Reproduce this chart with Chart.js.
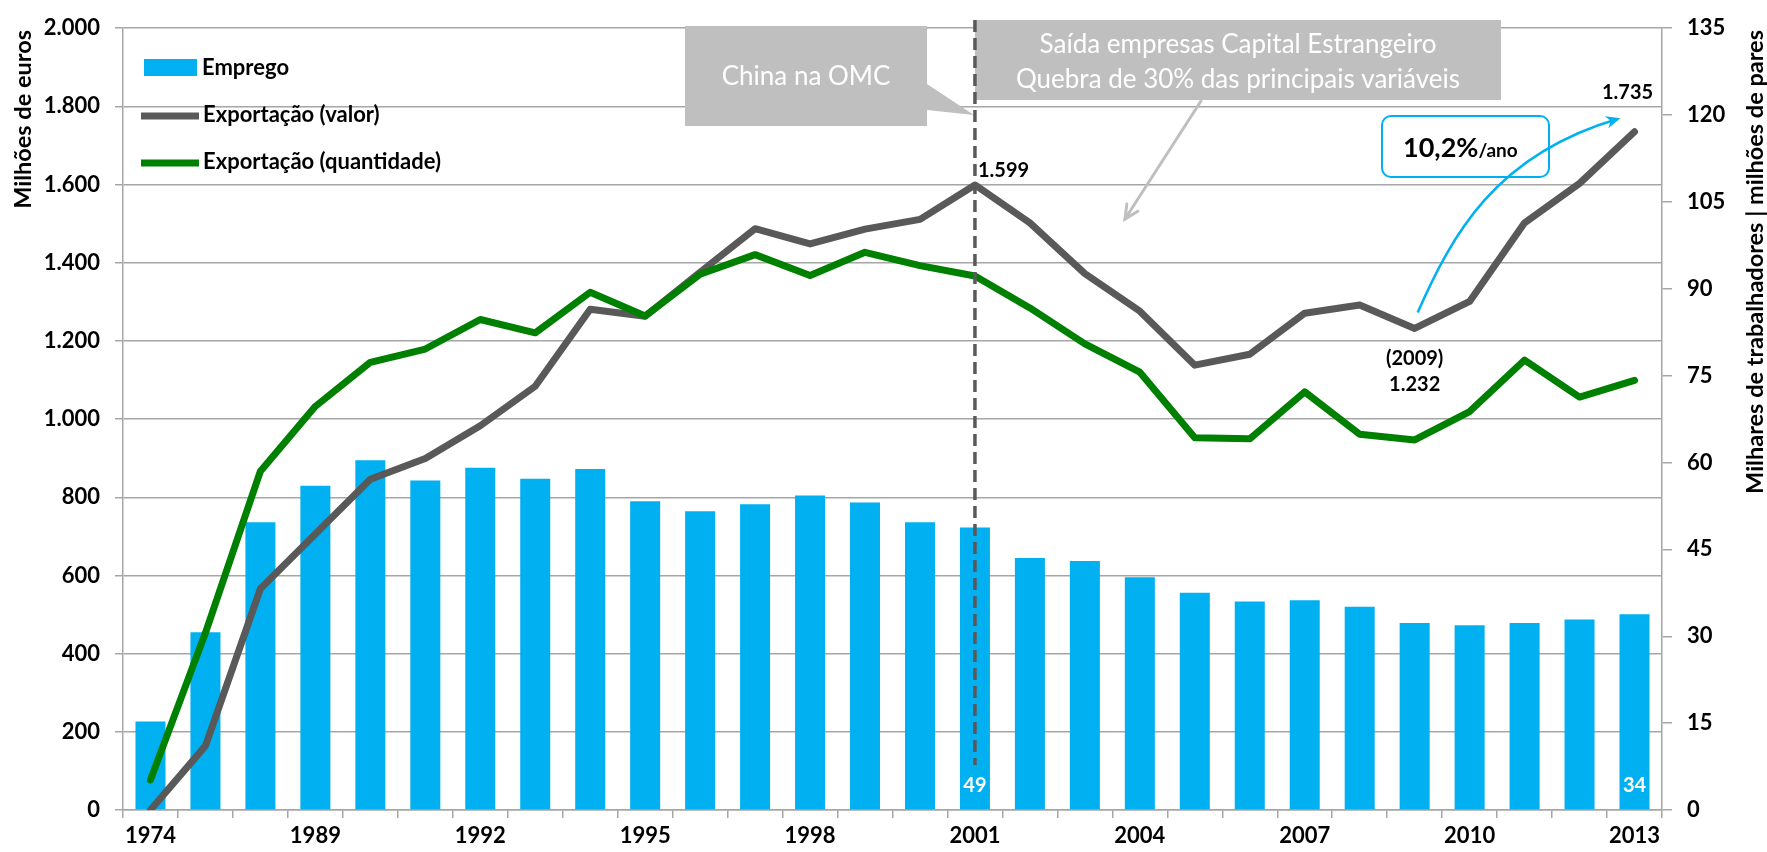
<!DOCTYPE html>
<html>
<head>
<meta charset="utf-8">
<script src="https://cdn.jsdelivr.net/npm/chart.js@4.4.1/dist/chart.umd.min.js"></script>
<style>
html,body{margin:0;padding:0;background:#fff;}
#wrap{width:1767px;height:852px;position:relative;}
</style>
</head>
<body>
<div id="wrap"><canvas id="c"></canvas></div>
<script>
// ---------- DATA ----------
const categories = ['1974','1980','1985','1989','1990','1991','1992','1993','1994','1995','1996','1997','1998','1999','2000','2001','2002','2003','2004','2005','2006','2007','2008','2009','2010','2011','2012','2013'];
// Emprego (milhares de trabalhadores) - right axis
const emprego = [15.3,30.7,49.7,56.0,60.4,56.9,59.1,57.2,58.9,53.3,51.6,52.8,54.3,53.1,49.7,48.8,43.5,43.0,40.2,37.5,36.0,36.2,35.1,32.3,31.9,32.3,32.9,33.8];
// Exportação (valor) - milhões de euros - left axis
const exportValor = [0,164,566,706,846,899,983,1084,1281,1263,1376,1487,1448,1486,1511,1599,1502,1372,1276,1138,1166,1271,1292,1232,1301,1502,1603,1735];
// Exportação (quantidade) - milhões de pares - right axis
const exportQuantidade = [5.2,30.6,58.5,69.7,77.3,79.6,84.7,82.4,89.4,85.3,92.5,95.9,92.3,96.3,94.0,92.2,86.7,80.5,75.6,64.3,64.1,72.2,64.9,63.9,68.8,77.7,71.3,74.2];
const leftAxisRange = [0, 2000, 200];
const rightAxisRange = [0, 135, 15];
const labelEvery = 3;
const seriesNames = ['Emprego','Exportação (valor)','Exportação (quantidade)'];
const axisTitles = ['Milhões de euros','Milhares de trabalhadores | milhões de pares'];

// ---------- STYLE ----------
const C_BAR = '#00B0F0', C_VAL = '#595959', C_QTY = '#008000', C_GRID = '#a6a6a6', C_BOX = '#BFBFBF';
const FONT = 'Lato, "Open Sans", sans-serif';
const tickFont = {family: FONT, weight: 'bold', size: 22};

function fmtThousands(v){
  const s = String(Math.round(v));
  return s.replace(/\B(?=(\d{3})+(?!\d))/g, '.');
}

const annot = {
  id: 'annot',
  afterDatasetsDraw(chart){
    const {ctx, chartArea: ca, scales} = chart;
    const xs = scales.x, yl = scales.y;
    const i2001 = categories.indexOf('2001'), i2009 = categories.indexOf('2009'), i2013 = categories.indexOf('2013');
    const x2001 = xs.getPixelForValue(i2001);
    const x2009 = xs.getPixelForValue(i2009);
    const x2013 = xs.getPixelForValue(i2013);
    ctx.save();

    // China na OMC callout
    ctx.fillStyle = C_BOX;
    ctx.beginPath();
    ctx.moveTo(685, 26); ctx.lineTo(927, 26); ctx.lineTo(927, 84);
    ctx.lineTo(x2001 - 1, 115); ctx.lineTo(927, 110); ctx.lineTo(927, 126); ctx.lineTo(685, 126);
    ctx.closePath(); ctx.fill();
    ctx.fillStyle = '#fff';
    ctx.font = '26px ' + FONT;
    ctx.textAlign = 'center'; ctx.textBaseline = 'alphabetic';
    ctx.fillText('China na OMC', 806, 85);

    // Saída box
    ctx.fillStyle = C_BOX;
    ctx.fillRect(x2001, 20, 1501 - x2001, 80);
    ctx.fillStyle = '#fff';
    ctx.fillText('Saída empresas Capital Estrangeiro', (x2001 + 1501) / 2, 53);
    ctx.fillText('Quebra de 30% das principais variáveis', (x2001 + 1501) / 2, 88);

    // gray arrow from box
    ctx.strokeStyle = C_BOX; ctx.lineWidth = 3; ctx.lineCap = 'round';
    const ax0 = 1201, ay0 = 101, ax1 = 1125, ay1 = 219;
    ctx.beginPath(); ctx.moveTo(ax0, ay0); ctx.lineTo(ax1, ay1); ctx.stroke();
    let ang = Math.atan2(ay1 - ay0, ax1 - ax0);
    ctx.beginPath();
    ctx.moveTo(ax1 - 15 * Math.cos(ang - 0.45), ay1 - 15 * Math.sin(ang - 0.45));
    ctx.lineTo(ax1, ay1);
    ctx.lineTo(ax1 - 15 * Math.cos(ang + 0.45), ay1 - 15 * Math.sin(ang + 0.45));
    ctx.stroke();

    // dashed vertical line at 2001
    ctx.strokeStyle = '#595959'; ctx.lineWidth = 3.5; ctx.lineCap = 'butt';
    ctx.setLineDash([12, 6]);
    ctx.beginPath(); ctx.moveTo(x2001, 20); ctx.lineTo(x2001, ca.bottom - 45); ctx.stroke();
    ctx.setLineDash([]);

    // data labels
    ctx.fillStyle = '#000';
    ctx.font = 'bold 20px ' + FONT;
    ctx.textAlign = 'left';
    ctx.fillText(fmtThousands(exportValor[i2001]), x2001 + 3, yl.getPixelForValue(exportValor[i2001]) - 8);
    ctx.textAlign = 'center';
    ctx.fillText(fmtThousands(exportValor[i2013]), x2013 - 7, yl.getPixelForValue(exportValor[i2013]) - 33);
    const y09 = yl.getPixelForValue(exportValor[i2009]);
    ctx.fillText('(' + categories[i2009] + ')', x2009, y09 + 37);
    ctx.fillText(fmtThousands(exportValor[i2009]), x2009, y09 + 63);

    // white labels in bars
    ctx.fillStyle = '#fff';
    ctx.fillText(String(Math.round(emprego[i2001])), x2001, ca.bottom - 18);
    ctx.fillText(String(Math.round(emprego[i2013])), x2013, ca.bottom - 18);

    // growth box
    ctx.fillStyle = '#fff'; ctx.strokeStyle = C_BAR; ctx.lineWidth = 2;
    ctx.beginPath(); ctx.roundRect(1382, 116, 167, 61, 9); ctx.fill(); ctx.stroke();
    ctx.fillStyle = '#000'; ctx.textAlign = 'left';
    ctx.font = 'bold 27px ' + FONT;
    ctx.fillText('10,2%', 1403, 157);
    const w1 = ctx.measureText('10,2%').width;
    ctx.font = 'bold 19px ' + FONT;
    ctx.fillText('/ano', 1403 + w1, 157);

    // blue curved arrow
    const p0 = [x2009 + 3, y09 - 16], p1 = [1452, 235], p2 = [1495, 155], p3 = [x2013 - 17, 119];
    ctx.strokeStyle = C_BAR; ctx.lineWidth = 2.5;
    ctx.beginPath(); ctx.moveTo(p0[0], p0[1]); ctx.bezierCurveTo(p1[0], p1[1], p2[0], p2[1], p3[0], p3[1]); ctx.stroke();
    ang = Math.atan2(p3[1] - p2[1], p3[0] - p2[0]);
    ctx.fillStyle = C_BAR;
    ctx.beginPath();
    ctx.moveTo(p3[0] + 3 * Math.cos(ang), p3[1] + 3 * Math.sin(ang));
    ctx.lineTo(p3[0] - 13 * Math.cos(ang - 0.5), p3[1] - 13 * Math.sin(ang - 0.5));
    ctx.lineTo(p3[0] - 7 * Math.cos(ang), p3[1] - 7 * Math.sin(ang));
    ctx.lineTo(p3[0] - 13 * Math.cos(ang + 0.5), p3[1] - 13 * Math.sin(ang + 0.5));
    ctx.closePath(); ctx.fill();

    ctx.restore();
  },
  afterDraw(chart){
    const {ctx} = chart;
    ctx.save();
    // legend
    ctx.font = 'bold 22px ' + FONT;
    ctx.fillStyle = C_BAR; ctx.fillRect(144, 59, 53, 17);
    ctx.lineWidth = 7; ctx.lineCap = 'butt';
    ctx.strokeStyle = C_VAL; ctx.beginPath(); ctx.moveTo(141, 116); ctx.lineTo(199, 116); ctx.stroke();
    ctx.strokeStyle = C_QTY; ctx.beginPath(); ctx.moveTo(141, 163); ctx.lineTo(199, 163); ctx.stroke();
    ctx.fillStyle = '#000'; ctx.textAlign = 'left'; ctx.textBaseline = 'middle';
    ctx.fillText(seriesNames[0], 202, 68);
    ctx.fillText(seriesNames[1], 203, 115);
    ctx.fillText(seriesNames[2], 203, 162);

    // axis titles (rotated, reading upwards, aligned to top)
    ctx.font = 'bold 23.5px ' + FONT;
    ctx.textAlign = 'right'; ctx.textBaseline = 'middle';
    ctx.save(); ctx.translate(23, 30); ctx.rotate(-Math.PI / 2); ctx.fillText(axisTitles[0], 0, 0); ctx.restore();
    ctx.save(); ctx.translate(1755, 30); ctx.rotate(-Math.PI / 2); ctx.fillText(axisTitles[1], 0, 0); ctx.restore();
    ctx.restore();
  }
};

new Chart(document.getElementById('c'), {
  data: {
    labels: categories,
    datasets: [
      {type: 'line', label: seriesNames[2], data: exportQuantidade, yAxisID: 'y1', borderColor: C_QTY, backgroundColor: C_QTY,
       borderWidth: 7, pointRadius: 0, tension: 0, order: 1, borderJoinStyle: 'round', borderCapStyle: 'round'},
      {type: 'line', label: seriesNames[1], data: exportValor, yAxisID: 'y', borderColor: C_VAL, backgroundColor: C_VAL,
       borderWidth: 7, pointRadius: 0, tension: 0, order: 2, borderJoinStyle: 'round', borderCapStyle: 'round'},
      {type: 'bar', label: seriesNames[0], data: emprego, yAxisID: 'y1', backgroundColor: C_BAR,
       barPercentage: 0.546, categoryPercentage: 1, order: 3}
    ]
  },
  options: {
    responsive: true, maintainAspectRatio: false, animation: false, devicePixelRatio: 1,
    layout: {padding: {top: 22, left: 0, right: 0, bottom: 0}},
    plugins: {legend: {display: false}, tooltip: {enabled: false}},
    scales: {
      x: {
        position: 'bottom', offset: true,
        grid: {offset: true, drawOnChartArea: false, drawTicks: true, tickLength: 8, color: C_GRID, lineWidth: 1.5},
        border: {display: true, color: C_GRID, width: 1.5},
        ticks: {autoSkip: false, maxRotation: 0, minRotation: 0, padding: 5, color: '#000', font: tickFont,
                callback: (v, i) => (i % labelEvery === 0 ? categories[i] : '')},
        afterFit(s){ s.height = 42; }
      },
      y: {
        position: 'left', min: leftAxisRange[0], max: leftAxisRange[1],
        grid: {color: C_GRID, lineWidth: 1.5, tickLength: 8, drawTicks: true},
        border: {display: true, color: C_GRID, width: 1.5},
        ticks: {stepSize: leftAxisRange[2], padding: 15, color: '#000', font: tickFont, callback: v => fmtThousands(v)},
        afterFit(s){ s.width = 123; }
      },
      y1: {
        position: 'right', min: rightAxisRange[0], max: rightAxisRange[1],
        grid: {drawOnChartArea: false, color: C_GRID, lineWidth: 1.5, tickLength: 10, drawTicks: true},
        border: {display: true, color: C_GRID, width: 1.5},
        ticks: {stepSize: rightAxisRange[2], padding: 15, color: '#000', font: tickFont},
        afterFit(s){ s.width = 105; }
      }
    }
  },
  plugins: [annot]
});
</script>
</body>
</html>
